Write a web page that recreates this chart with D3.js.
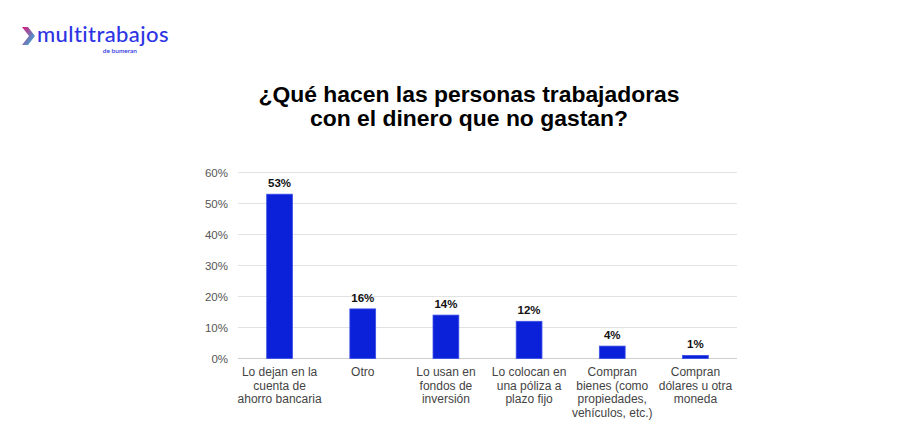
<!DOCTYPE html>
<html>
<head>
<meta charset="utf-8">
<script src="https://cdn.jsdelivr.net/npm/d3@7"></script>
<style>
  body { margin: 0; background: #fff; }
  svg { display: block; font-family: "Liberation Sans", Arial, sans-serif; }
</style>
</head>
<body>
<svg id="chart" width="902" height="436"></svg>
<script>
// data
const categories = [
  ["Lo dejan en la", "cuenta de", "ahorro bancaria"],
  ["Otro"],
  ["Lo usan en", "fondos de", "inversión"],
  ["Lo colocan en", "una póliza a", "plazo fijo"],
  ["Compran", "bienes (como", "propiedades,", "vehículos, etc.)"],
  ["Compran", "dólares u otra", "moneda"]
];
const values = [53, 16, 14, 12, 4, 1];
const yTicks = [0, 10, 20, 30, 40, 50, 60];
const titleLines = ["¿Qué hacen las personas trabajadoras", "con el dinero que no gastan?"];

const svg = d3.select("#chart");

// logo
const logo = svg.append("g");
const grad = svg.append("defs").append("linearGradient")
    .attr("id", "chev").attr("x1", 0).attr("y1", 0).attr("x2", 1).attr("y2", 1);
grad.append("stop").attr("offset", "0%").attr("stop-color", "#e0157a");
grad.append("stop").attr("offset", "100%").attr("stop-color", "#19c5e6");
logo.append("path")
    .attr("d", "M22,27 L28,27 L35,36 L28,45 L22,45 L29,36 Z")
    .attr("fill", "url(#chev)");
logo.append("text")
    .attr("x", 37).attr("y", 42)
    .attr("font-family", "Lato, 'Noto Sans', sans-serif")
    .attr("font-size", 22).attr("font-weight", 500)
    .attr("letter-spacing", 0.4)
    .attr("fill", "#2d34e3")
    .text("multitrabajos");
logo.append("text")
    .attr("x", 137).attr("y", 53)
    .attr("text-anchor", "end")
    .attr("font-family", "Lato, 'Noto Sans', sans-serif")
    .attr("font-size", 6.5).attr("font-weight", 600)
    .attr("fill", "#2d34e3")
    .text("de bumeran");

// title
svg.append("text")
    .attr("x", 469).attr("y", 102)
    .attr("text-anchor", "middle")
    .attr("font-size", 22.9).attr("font-weight", "bold")
    .attr("fill", "#000")
  .selectAll("tspan")
  .data(titleLines)
  .join("tspan")
    .attr("x", 469)
    .attr("dy", (d, i) => i === 0 ? 0 : 24)
    .text(d => d);

// scales
const x = d3.scaleBand()
    .domain(d3.range(values.length))
    .range([238, 737])
    .paddingInner(0.69)
    .paddingOuter(0.345);

const y = d3.scaleLinear()
    .domain([0, 60])
    .range([358.5, 172.5]);

// gridlines
svg.append("g")
  .selectAll("line")
  .data(yTicks)
  .join("line")
    .attr("x1", 238).attr("x2", 737)
    .attr("y1", d => y(d)).attr("y2", d => y(d))
    .attr("stroke", d => d === 0 ? "#cfcfcf" : "#e2e2e2")
    .attr("stroke-width", 1);

// y axis labels
const yAxis = d3.axisLeft(y)
    .tickValues(yTicks)
    .tickSize(0)
    .tickPadding(10)
    .tickFormat(d => d + "%");
svg.append("g")
    .attr("transform", "translate(238,0)")
    .call(yAxis)
    .call(g => g.select(".domain").remove())
    .call(g => g.selectAll("text")
        .attr("font-family", "'Liberation Sans', Arial, sans-serif")
        .attr("font-size", 11.5)
        .attr("fill", "#555"));

// bars
svg.append("g")
  .selectAll("rect")
  .data(values)
  .join("rect")
    .attr("x", (d, i) => x(i))
    .attr("y", d => y(d))
    .attr("width", x.bandwidth())
    .attr("height", d => y(0) - y(d))
    .attr("fill", "#0a20d9")
    .attr("stroke", "#3a4fe6")
    .attr("stroke-width", 0.8);

// value labels
svg.append("g")
  .selectAll("text")
  .data(values)
  .join("text")
    .attr("x", (d, i) => x(i) + x.bandwidth() / 2)
    .attr("y", d => y(d) - 7)
    .attr("text-anchor", "middle")
    .attr("font-size", 11.5).attr("font-weight", "bold")
    .attr("fill", "#111")
    .text(d => d + "%");

// category labels
svg.append("g")
  .selectAll("text")
  .data(categories)
  .join("text")
    .attr("text-anchor", "middle")
    .attr("font-size", 12)
    .attr("fill", "#444")
    .attr("y", 376)
  .each(function(lines, i) {
    d3.select(this).selectAll("tspan")
      .data(lines)
      .join("tspan")
        .attr("x", x(i) + x.bandwidth() / 2)
        .attr("dy", (d, j) => j === 0 ? 0 : 13.6)
        .text(d => d);
  });
</script>
</body>
</html>
